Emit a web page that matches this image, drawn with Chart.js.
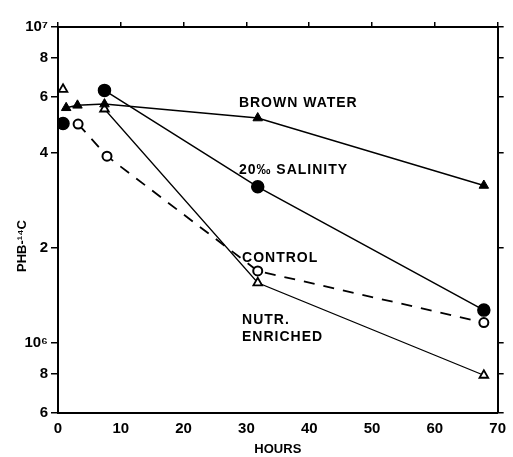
<!DOCTYPE html>
<html>
<head>
<meta charset="utf-8">
<script src="https://cdn.jsdelivr.net/npm/chart.js@4.4.1/dist/chart.umd.min.js"></script>
<style>
  html, body { margin: 0; padding: 0; background: #fff; }
  #wrap { width: 513px; height: 457px; }
</style>
</head>
<body>
<div id="wrap"><canvas id="phbChart"></canvas></div>
<script>
// Data (hours vs PHB-14C, log scale)
const brownHours = [1.3, 3.1, 7.4, 31.8, 67.8];
const brownValues = [5.55e6, 5.65e6, 5.7e6, 5.15e6, 3.15e6];

const salinityHours = [0.8, 7.4, 31.8, 67.8];
const salinityValues = [4.95e6, 6.3e6, 3.12e6, 1.27e6];

const controlHours = [3.2, 7.8, 31.8, 67.8];
const controlValues = [4.93e6, 3.9e6, 1.69e6, 1.16e6];

const nutrHours = [0.8, 7.4, 31.8, 67.8];
const nutrValues = [6.35e6, 5.5e6, 1.55e6, 7.9e5];

const xTicks = [0, 10, 20, 30, 40, 50, 60, 70];
const yTicks = [6e5, 8e5, 1e6, 2e6, 4e6, 6e6, 8e6, 1e7];
const yTickLabels = ["6", "8", "10\u2076", "2", "4", "6", "8", "10\u2077"];

const seriesLabels = ["BROWN WATER", "20\u2030 SALINITY", "CONTROL", "NUTR.", "ENRICHED"];

// where the series names sit, in data units
const labelSpots = [
  { x: 28.8, y: 5.75e6 },
  { x: 28.8, y: 3.53e6 },
  { x: 29.3, y: 1.86e6 },
  { x: 29.3, y: 1.18e6 },
  { x: 29.3, y: 1.045e6 },
];

const FONT = "'Liberation Sans', Arial, sans-serif";

function toPoints(xs, ys) {
  return xs.map((x, i) => ({ x: x, y: ys[i] }));
}

// skip the first segment (first reading is not joined to the curve)
const skipFirst = {
  borderColor: (ctx) => (ctx.p0DataIndex === 0 ? "rgba(0,0,0,0)" : "#000"),
};

const seriesText = {
  id: "seriesText",
  afterDatasetsDraw(chart) {
    const { ctx, scales } = chart;
    ctx.save();
    ctx.fillStyle = "#000";
    ctx.font = "bold 14px " + FONT;
    ctx.letterSpacing = "1px";
    ctx.textBaseline = "middle";
    ctx.textAlign = "left";
    seriesLabels.forEach((t, i) => {
      const px = scales.x.getPixelForValue(labelSpots[i].x);
      const py = scales.y.getPixelForValue(labelSpots[i].y);
      ctx.fillText(t, px, py);
    });
    // y axis title
    ctx.letterSpacing = "0px";
    ctx.translate(22, 246);
    ctx.rotate(-Math.PI / 2);
    ctx.textAlign = "center";
    ctx.font = "bold 13px " + FONT;
    ctx.fillText("PHB-\u00b9\u2074C", 0, 0);
    ctx.restore();
  },
};

const logTicks = (axis) => {
  axis.ticks = yTicks.map((v) => ({ value: v }));
};

new Chart(document.getElementById("phbChart").getContext("2d"), {
  type: "line",
  data: {
    datasets: [
      {
        label: "Brown water",
        data: toPoints(brownHours, brownValues),
        borderColor: "#000",
        borderWidth: 1.5,
        backgroundColor: "#000",
        pointStyle: "triangle",
        pointRadius: 5.5,
        pointBorderWidth: 1,
      },
      {
        label: "20 salinity",
        data: toPoints(salinityHours, salinityValues),
        borderColor: "#000",
        borderWidth: 1.5,
        backgroundColor: "#000",
        pointStyle: "circle",
        pointRadius: 6,
        segment: skipFirst,
      },
      {
        label: "Control",
        data: toPoints(controlHours, controlValues),
        borderColor: "#000",
        borderWidth: 1.8,
        borderDash: [11, 9],
        backgroundColor: "#fff",
        pointStyle: "circle",
        pointRadius: 4.5,
        pointBorderWidth: 2,
      },
      {
        label: "Nutr. enriched",
        data: toPoints(nutrHours, nutrValues),
        borderColor: "#000",
        borderWidth: 1.3,
        backgroundColor: "#fff",
        pointStyle: "triangle",
        pointRadius: 5,
        pointBorderWidth: 1.8,
        segment: skipFirst,
      },
    ],
  },
  options: {
    responsive: true,
    maintainAspectRatio: false,
    animation: false,
    layout: { padding: 0 },
    plugins: { legend: { display: false }, tooltip: { enabled: false } },
    scales: {
      x: {
        type: "linear",
        position: "bottom",
        min: 0,
        max: 70,
        afterBuildTicks: (axis) => {
          axis.ticks = xTicks.map((v) => ({ value: v }));
        },
        afterFit: (s) => { s.height = 44; },
        grid: { drawOnChartArea: false, drawTicks: true, tickLength: 0, color: "#000" },
        border: { display: true, color: "#000", width: 2 },
        ticks: { color: "#000", font: { family: FONT, size: 15, weight: "bold" }, padding: 7, maxRotation: 0 },
        title: { display: true, text: "HOURS", color: "#000", font: { family: FONT, size: 13, weight: "bold" }, padding: { top: 2, bottom: 0 } },
      },
      xTop: {
        type: "linear",
        position: "top",
        min: 0,
        max: 70,
        afterBuildTicks: (axis) => {
          axis.ticks = xTicks.map((v) => ({ value: v }));
        },
        afterFit: (s) => { s.height = 27; },
        grid: { drawOnChartArea: false, drawTicks: true, tickLength: 5, color: "#000", lineWidth: 1.5 },
        border: { display: true, color: "#000", width: 2 },
        ticks: { display: false },
      },
      y: {
        type: "logarithmic",
        position: "left",
        min: 6e5,
        max: 1e7,
        afterBuildTicks: logTicks,
        afterFit: (s) => { s.width = 58; },
        grid: { drawOnChartArea: false, drawTicks: true, tickLength: 7, color: "#000", lineWidth: 1.5 },
        border: { display: true, color: "#000", width: 2 },
        ticks: {
          color: "#000",
          font: { family: FONT, size: 15, weight: "bold" },
          padding: 3,
          callback: (v) => {
            const i = yTicks.indexOf(v);
            return i >= 0 ? yTickLabels[i] : "";
          },
        },
      },
      yRight: {
        type: "logarithmic",
        position: "right",
        min: 6e5,
        max: 1e7,
        afterBuildTicks: logTicks,
        afterFit: (s) => { s.width = 13; },
        grid: { drawOnChartArea: false, drawTicks: true, tickLength: 6, color: "#000", lineWidth: 1.5 },
        border: { display: true, color: "#000", width: 2 },
        ticks: { display: false },
      },
    },
  },
  plugins: [seriesText],
});
</script>
</body>
</html>
